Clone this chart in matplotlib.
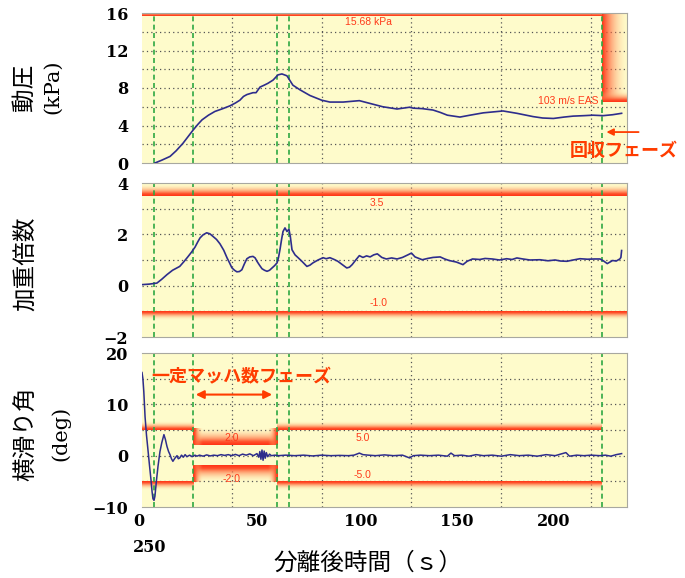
import numpy as np
import matplotlib
matplotlib.use("Agg")
import matplotlib.pyplot as plt

# ---- data ----
# dynamic pressure (kPa)
q_t = [7.2, 11, 15.6, 19, 22.8, 26, 28.4, 31, 33.4, 37, 40.6, 45, 49, 52, 54.5, 56.5, 58.4,
       61.8, 63.5, 65.7, 68, 70.1, 73, 75.7, 77.9, 80.7, 84, 88, 93.5, 100, 104.6, 112,
       121, 127, 134, 142, 149, 151, 156, 162, 166, 170, 177, 182.6, 190, 201, 208.7,
       217.7, 223, 229, 235, 240, 246, 251, 256.7, 262, 267]
q_v = [0.0, 0.3, 0.7, 1.3, 2.1, 2.9, 3.5, 4.1, 4.6, 5.1, 5.5, 5.8, 6.1, 6.4, 6.7, 7.1, 7.3,
       7.5, 7.5, 8.1, 8.3, 8.5, 8.85, 9.4, 9.5, 9.3, 8.3, 7.8, 7.2, 6.7, 6.5, 6.5,
       6.65, 6.35, 6.0, 5.76, 5.95, 5.85, 5.8, 5.65, 5.4, 5.1, 4.9, 5.1, 5.35, 5.55, 5.3,
       4.95, 4.8, 4.75, 4.9, 5.0, 5.05, 5.1, 5.05, 5.15, 5.3]

# load factor
n_t = [0, 4, 8.3, 11, 13.9, 17, 21, 23.5, 25.6, 27.5, 29.5, 31, 32.3, 34, 36, 37.8, 39.5,
       41.5, 43.4, 45.5, 47.3, 48.8, 50, 51.5, 52.8, 54.2, 55.6, 57, 58.4, 60, 61.8, 63,
       64, 65.4, 66.8, 68.2, 69.6, 71, 72.4, 73.8, 75.2, 76.0, 76.8, 77.7, 78.5, 79.6,
       80.7, 81.8, 82.6, 83.5, 85.2, 86.9, 89, 91.8, 93.5, 95.2, 98, 100.8, 102.5,
       104.6, 107, 109, 111.5, 114, 115.5, 117, 119, 121, 123, 125, 127, 129, 131,
       133.5, 136, 139, 142, 145, 148, 150, 152, 156, 159, 162, 166, 168.5, 171, 175,
       178.7, 181, 184, 188, 191, 195, 199, 203, 206, 208.7, 212, 216, 221.6, 226,
       230, 233, 236.6, 240, 243.8, 248, 252, 255, 257, 259, 262, 264, 266, 266.6, 267]
n_v = [0.04, 0.06, 0.1, 0.25, 0.43, 0.6, 0.75, 0.95, 1.13, 1.3, 1.5, 1.7, 1.86, 1.98, 2.06,
       2.02, 1.92, 1.8, 1.63, 1.38, 1.09, 0.88, 0.7, 0.6, 0.54, 0.55, 0.62, 0.85, 1.05,
       1.12, 1.14, 1.08, 0.95, 0.8, 0.66, 0.6, 0.56, 0.6, 0.69, 0.78, 0.89, 1.1, 1.4,
       1.8, 2.11, 2.25, 2.11, 2.2, 1.9, 1.4, 1.2, 1.09, 0.95, 0.75, 0.8, 0.89, 1.0,
       1.09, 1.05, 1.09, 1.02, 0.95, 0.82, 0.69, 0.72, 0.82, 1.0, 1.17, 1.1, 1.16,
       1.12, 1.2, 1.24, 1.1, 1.04, 1.08, 1.04, 1.1, 1.2, 1.27, 1.12, 1.01, 1.06, 1.1,
       1.12, 1.04, 0.98, 0.92, 0.82, 0.95, 1.04, 1.02, 1.06, 1.04, 1.0, 1.05, 1.02,
       1.08, 1.04, 1.0, 1.01, 0.97, 1.0, 0.96, 0.95, 1.0, 1.05, 1.03, 1.04, 1.04, 0.96,
       0.86, 0.98, 0.96, 1.04, 1.1, 1.37]

# sideslip angle (deg): time and value
b_t = [0.0, 0.5, 1.0, 1.7, 2.5, 3.3, 4.2, 5.0, 5.6, 6.1,
       6.7, 7.2, 8.0, 8.9, 10.0, 11.0, 12.2, 13.0, 13.9, 14.8,
       15.6, 16.4, 17.2, 18.3, 19.5, 20.2, 21.0, 22.0, 23.0, 24.0,
       25.0, 26.5, 28.0, 29.5, 30.6, 32, 34, 36, 38, 40,
       42, 44, 46, 48, 50, 52, 54, 56, 58, 60,
       62, 64, 65, 65.6, 66.2, 66.8, 67.4, 68.0, 68.6, 69.2,
       70, 71, 72, 74, 76, 80, 85, 90, 95, 100,
       105, 110, 115, 118, 121, 123, 126, 130, 135, 140,
       145, 149, 151, 155, 160, 165, 170, 172, 174, 178,
       182, 186, 190, 195, 200, 205, 210, 215, 220, 225,
       230, 234, 236, 238, 242, 246, 250, 255, 258, 261,
       264, 267]
b_v = [16.2, 15.0, 12.5, 7.6, 4.0, 1.2, -2.0, -4.7, -7.0, -8.4,
       -8.7, -7.9, -5.0, -2.1, 0.8, 2.5, 4.1, 3.2, 1.8, 0.8,
       0.2, -0.6, -1.1, -0.5, 0.0, -0.6, -0.45, 0.1, -0.3, 0.2,
       -0.2, 0.1, -0.2, 0.1, -0.1, 0.1, -0.1, 0.15, -0.05, 0.1,
       0.0, 0.2, 0.05, 0.2, 0.0, 0.25, 0.0, 0.3, 0.1, 0.35,
       0.0, 0.4, -0.3, 0.8, -0.7, 1.1, -0.9, 0.9, -0.5, 0.6,
       -0.2, 0.3, 0.0, 0.1, 0.0, 0.1, 0.0, 0.1, -0.05, 0.1,
       0.0, 0.05, 0.0, 0.1, 0.5, 0.2, 0.1, 0.0, 0.15, 0.0,
       0.1, -0.45, 0.0, 0.1, 0.0, 0.1, -0.1, 0.5, 0.0, 0.1,
       -0.1, 0.2, 0.0, 0.1, -0.1, 0.2, 0.0, 0.1, -0.1, 0.2,
       0.0, 0.4, 0.6, -0.1, 0.1, 0.0, 0.1, 0.0, 0.1, -0.1,
       0.2, 0.4]

phase_lines = [6.7, 28.4, 75.2, 81.8, 256]
x_tick_labels = ["0", "50", "100", "150", "200", "250"]
# ----------------------------------------

BG = "#fefbcb"
RED = "#ff3a1a"
CJK = ["Noto Sans CJK JP", "DejaVu Sans"]


def grad(ax, x0, x1, y0, y1, edge, k=1.25):
    # gradient band, solid red on the 'edge' side fading away
    n = 64
    s = np.linspace(0, 1, n)
    c0 = np.array([1.0, 0.2, 0.08])
    c1 = np.array([1.0, 0.82, 0.55])
    rgb = c0[None, :] * (1 - s[:, None]) + c1[None, :] * s[:, None]
    a = np.clip(k - k * s, 0, 1) ** 1.3
    col = np.concatenate([rgb, a[:, None]], axis=1)
    if edge == "bottom":
        img = col[:, None, :]
    elif edge == "top":
        img = col[::-1][:, None, :]
    elif edge == "left":
        img = col[None, :, :]
    else:
        img = col[::-1][None, :, :]
    ax.imshow(img, extent=(x0, x1, y0, y1), origin="lower", aspect="auto",
              interpolation="bilinear", zorder=1)


fig = plt.figure(figsize=(6.85, 5.78), dpi=100)
W, H = 685, 578
L, R = 142, 627
boxes = [(13, 163), (183, 337), (353, 507)]
axs = [fig.add_axes([L / W, 1 - b / H, (R - L) / W, (b - t) / H]) for t, b in boxes]

ylims = [(0, 16), (-2, 4), (-10, 20)]
yticks = [[0, 4, 8, 12, 16], [-2, 0, 2, 4], [-10, 0, 10, 20]]
ygrid = [np.arange(2, 16, 2), np.arange(-1, 4, 1), np.arange(-5, 20, 5)]

for ax, yl, yt, yg in zip(axs, ylims, yticks, ygrid):
    ax.set_facecolor(BG)
    for xg in [50, 100, 150, 200, 250]:
        ax.axvline(xg, color="#555555", lw=0.9, ls=(0, (1, 2.5)), zorder=0.5)
    for g in yg:
        ax.axhline(g, color="#555555", lw=0.9, ls=(0, (1, 2.5)), zorder=0.5)
    for pl in phase_lines:
        ax.axvline(pl, color="#2ea843", lw=1.2, ls=(0, (3, 2)), zorder=2)
    ax.set_yticks(yt)
    ax.set_yticklabels([str(v).replace("-", "\u2212") for v in yt],
                       family="DejaVu Serif", fontsize=11.5, fontweight="bold")
    ax.tick_params(axis="y", length=0, pad=10)
    ax.set_xticks([])
    for sp in ax.spines.values():
        sp.set_color("#a8a8a0")
        sp.set_linewidth(0.8)
    ax.spines["left"].set_visible(False)

ax1, ax2, ax3 = axs

# top: dynamic pressure limits
grad(ax1, 0, 256, 15.68, 16.3, "bottom")
grad(ax1, 256, 270, 6.5, 16.3, "left", k=1.0)
grad(ax1, 256, 270, 6.5, 7.6, "bottom")
ax1.plot(q_t, q_v, color="#2e2d8c", lw=1.2, zorder=3)
ax1.text(125.8, 15.05, "15.68 kPa", color=RED, fontsize=7.5, ha="center", va="center",
         family="Liberation Sans", zorder=4)
ax1.text(254, 6.6, "103 m/s EAS", color=RED, fontsize=7.5, ha="right", va="center",
         family="Liberation Sans", zorder=4)

# middle: load factor limits
grad(ax2, 0, 270, 3.5, 3.95, "bottom")
grad(ax2, 0, 270, -1.35, -1.0, "top")
ax2.plot(n_t, n_v, color="#2e2d8c", lw=1.2, zorder=3)
ax2.text(130.8, 3.23, "3.5", color=RED, fontsize=7.5, ha="center", va="center",
         family="Liberation Sans", zorder=4)
ax2.text(131.4, -0.66, "-1.0", color=RED, fontsize=7.5, ha="center", va="center",
         family="Liberation Sans", zorder=4)

# bottom: sideslip limits (step in constant Mach phase)
for sgn in (1, -1):
    e_h = "bottom" if sgn > 0 else "top"

    def yb(a, b):
        return (a, b) if sgn > 0 else (-b, -a)
    grad(ax3, 0, 28.4, *yb(5, 6.6), e_h)
    grad(ax3, 75.2, 256, *yb(5, 6.6), e_h)
    grad(ax3, 28.4, 75.2, *yb(2, 5.2), e_h)
    grad(ax3, 28.4, 33.5, *yb(2, 5.2), "left")
    grad(ax3, 70.1, 75.2, *yb(2, 5.2), "right")
ax3.plot(b_t, b_v, color="#2e2d8c", lw=1.1, zorder=3)
for tx, ty, s in [(50, 3.5, "2.0"), (123, 3.5, "5.0"), (50, -4.5, "-2.0"), (122.5, -3.7, "-5.0")]:
    ax3.text(tx, ty, s, color=RED, fontsize=7.5, ha="center", va="center",
             family="Liberation Sans", zorder=4)

for ax, yl in zip(axs, ylims):
    ax.set_xlim(0, 270)
    ax.set_ylim(*yl)

# phase annotations
ORG = "#ff3c00"
ax3.text(5.0, 15.4, "一定マッハ数フェーズ", color=ORG, fontsize=13, fontweight="bold",
         family=CJK, ha="left", va="center", zorder=5)
ax3.annotate("", xy=(28.4, 11.9), xytext=(74, 11.9),
             arrowprops=dict(arrowstyle="<|-|>", color=ORG, lw=1.5, mutation_scale=12),
             zorder=5)
ax1.annotate("", xy=(257, 3.3), xytext=(278, 3.3), annotation_clip=False,
             arrowprops=dict(arrowstyle="-|>", color=ORG, lw=1.3, mutation_scale=10))
fig.text(570 / W, 1 - 151 / H, "回収フェーズ", color=ORG, fontsize=13, fontweight="bold",
         family=CJK, ha="left", va="center")

# y labels
fig.text(24 / W, 1 - 87 / H, "動圧", fontsize=17, family=CJK, rotation=90,
         ha="center", va="center")
fig.text(53 / W, 1 - 87 / H, "(kPa)", fontsize=15, family="DejaVu Serif", rotation=90,
         ha="center", va="center")
fig.text(26 / W, 1 - 264 / H, "加重倍数", fontsize=17, family=CJK, rotation=90,
         ha="center", va="center")
fig.text(26 / W, 1 - 434 / H, "横滑り角", fontsize=17, family=CJK, rotation=90,
         ha="center", va="center")
fig.text(61 / W, 1 - 433 / H, "(deg)", fontsize=15, family="DejaVu Serif", rotation=90,
         ha="center", va="center")

# x tick labels as laid out in the reference
xlab_pos = [(133, 521), (246, 521), (344, 521), (440, 521), (537, 521), (133, 548)]
for s, (px, py) in zip(x_tick_labels, xlab_pos):
    fig.text(px / W, 1 - py / H, s, fontsize=11.5, family="DejaVu Serif",
             fontweight="bold", ha="left", va="center")
fig.text(368 / W, 1 - 563 / H, "分離後時間（ｓ）", fontsize=17, family=CJK,
         ha="center", va="center")

fig.savefig("out.png", dpi=100)
